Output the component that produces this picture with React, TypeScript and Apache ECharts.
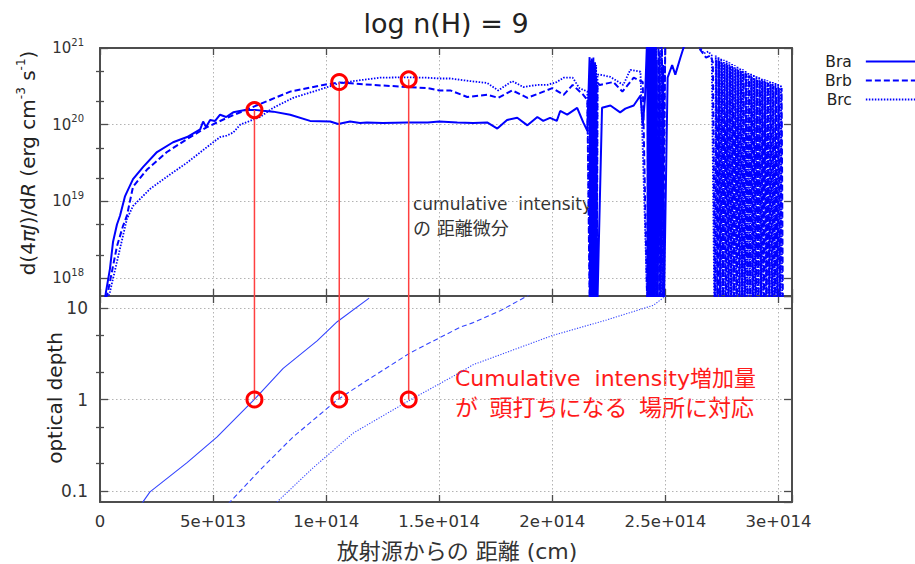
import { useEffect, useRef } from 'react';
import * as echarts from 'echarts';

// ---------------- data ----------------
const seriesNames = ['Bra', 'Brb', 'Brc'];
const xTickLabels = ['0', '5e+013', '1e+014', '1.5e+014', '2e+014', '2.5e+014', '3e+014'];
const intensityTickExponents = [18, 19, 20, 21];
const depthTickLabels = ['0.1', '1', '10'];
const intensityMinorTicks = [2e18, 5e18, 2e19, 5e19, 2e20, 5e20];
const depthMinorTicks = [0.2, 0.5, 2, 5];

// d(4piJ)/dR  [x (cm), value]
const braIntensity: [number, number][] = [
  [2.2e12, 5.4e17], [2.65e12, 6.6e17], [4.4e12, 1.32e18], [5.75e12, 2.95e18], [7.5e12, 5.0e18],
  [8.85e12, 6.5e18], [1.1e13, 1.15e19], [1.19e13, 1.32e19], [1.46e13, 1.95e19], [1.9e13, 2.8e19],
  [2.52e13, 4.4e19], [3.23e13, 5.9e19], [3.85e13, 6.9e19], [4.43e13, 8.7e19], [4.56e13, 1.1e20],
  [4.69e13, 9.3e19], [4.87e13, 1.15e20], [5.09e13, 1.12e20], [5.31e13, 1.35e20], [5.58e13, 1.26e20],
  [5.89e13, 1.45e20], [6.42e13, 1.55e20], [6.86e13, 1.56e20], [7.2e13, 1.52e20], [7.66e13, 1.48e20],
  [8.41e13, 1.35e20], [9.29e13, 1.12e20], [1.018e14, 1.1e20], [1.053e14, 1.02e20], [1.106e14, 1.1e20],
  [1.15e14, 1.05e20], [1.18e14, 1.07e20], [1.25e14, 1.05e20], [1.36e14, 1.07e20], [1.45e14, 1.07e20],
  [1.5e14, 1.1e20], [1.58e14, 1.07e20], [1.65e14, 1.05e20], [1.712e14, 1.07e20], [1.757e14, 8.9e19],
  [1.8e14, 1.15e20], [1.845e14, 1.23e20], [1.89e14, 9.8e19], [1.934e14, 1.26e20], [1.96e14, 1.12e20],
  [1.99e14, 1.23e20], [2.02e14, 1.12e20], [2.035e14, 1.51e20], [2.066e14, 1.35e20], [2.11e14, 1.66e20],
  [2.137e14, 1.07e20], [2.155e14, 8.3e19],
  [2.165e14, 7.6e20], [2.168e14, 3e17], [2.171e14, 6e20], [2.174e14, 3e17], [2.177e14, 7e20],
  [2.18e14, 3e17], [2.183e14, 5e20], [2.186e14, 3e17], [2.189e14, 6.5e20], [2.192e14, 3e17],
  [2.195e14, 4e20], [2.198e14, 3e17],
  [2.22e14, 1.66e20], [2.257e14, 1.78e20], [2.3e14, 1.45e20], [2.323e14, 1.62e20], [2.36e14, 1.78e20],
  [2.39e14, 2.4e20], [2.4e14, 9.8e19], [2.41e14, 2.2e20],
  [2.42e14, 1.5e21], [2.423e14, 3e17], [2.426e14, 1.2e21], [2.429e14, 3e17], [2.432e14, 9e20],
  [2.435e14, 3e17], [2.438e14, 1.3e21], [2.441e14, 3e17], [2.444e14, 8e20], [2.447e14, 3e17],
  [2.45e14, 1.1e21], [2.453e14, 3e17], [2.462e14, 7e20], [2.465e14, 3e17], [2.475e14, 9e20],
  [2.478e14, 3e17], [2.49e14, 6e20], [2.493e14, 3e17],
  [2.51e14, 4.1e20], [2.53e14, 6.0e20], [2.544e14, 4.5e20], [2.566e14, 7.4e20], [2.58e14, 1.0e21],
  [2.61e14, 1.6e21], [3.02e14, 1.8e21],
];

const brbIntensity: [number, number][] = [
  [2.65e12, 5.4e17], [3.5e12, 6.6e17], [7.5e12, 2.6e18], [1.02e13, 4.8e18], [1.19e13, 6.5e18],
  [1.46e13, 1.55e19], [2.08e13, 2.6e19], [2.96e13, 4.4e19], [3.85e13, 6.5e19], [4.73e13, 9.3e19],
  [5.62e13, 1.23e20], [6.86e13, 1.75e20], [8.41e13, 2.7e20], [9.87e13, 3.3e20], [1.058e14, 3.55e20],
  [1.208e14, 3.3e20], [1.358e14, 3.1e20], [1.447e14, 3.0e20], [1.5e14, 2.8e20], [1.549e14, 2.8e20],
  [1.624e14, 2.3e20], [1.712e14, 2.45e20], [1.761e14, 2.24e20], [1.823e14, 2.8e20], [1.89e14, 2.24e20],
  [1.947e14, 2.6e20], [2.0e14, 3.0e20], [2.05e14, 2.45e20], [2.09e14, 3.3e20], [2.137e14, 2.45e20],
  [2.155e14, 2.1e20],
  [2.166e14, 3e17], [2.169e14, 6.5e20], [2.172e14, 3e17], [2.175e14, 7.5e20], [2.178e14, 3e17],
  [2.181e14, 5.5e20], [2.184e14, 3e17], [2.187e14, 6e20], [2.19e14, 3e17], [2.193e14, 4.5e20],
  [2.196e14, 3e17], [2.2e14, 3.5e20],
  [2.21e14, 3.3e20], [2.27e14, 3.6e20], [2.31e14, 2.7e20], [2.36e14, 4.1e20], [2.4e14, 3.6e20],
  [2.421e14, 3e17], [2.424e14, 1.3e21], [2.427e14, 3e17], [2.43e14, 1.1e21], [2.433e14, 3e17],
  [2.436e14, 1.2e21], [2.439e14, 3e17], [2.442e14, 1.0e21], [2.445e14, 3e17], [2.448e14, 1.4e21],
  [2.451e14, 3e17], [2.458e14, 1.2e21], [2.461e14, 3e17], [2.47e14, 1.5e21], [2.473e14, 3e17],
  [2.485e14, 1.3e21], [2.488e14, 3e17], [2.5e14, 1.5e21],
  [2.6e14, 1.6e21], [2.66e14, 9e20], [2.68e14, 7.5e20], [2.7e14, 8e20], [2.71e14, 6.5e20],
  [2.72e14, 3e17], [2.726e14, 7e20], [2.732e14, 3e17], [2.738e14, 6.8e20], [2.744e14, 3e17],
  [2.75e14, 6.5e20], [2.756e14, 3e17], [2.762e14, 6.2e20], [2.768e14, 3e17], [2.774e14, 6e20],
  [2.78e14, 3e17], [2.786e14, 5.8e20], [2.792e14, 3e17], [2.798e14, 5.6e20], [2.804e14, 3e17],
  [2.81e14, 5.4e20], [2.816e14, 3e17], [2.822e14, 5.2e20], [2.828e14, 3e17], [2.834e14, 5e20],
  [2.84e14, 3e17], [2.846e14, 4.8e20], [2.852e14, 3e17], [2.858e14, 4.6e20], [2.864e14, 3e17],
  [2.87e14, 4.4e20], [2.876e14, 3e17], [2.882e14, 4.2e20], [2.888e14, 3e17], [2.894e14, 4e20],
  [2.9e14, 3e17], [2.906e14, 3.9e20], [2.912e14, 3e17], [2.918e14, 3.8e20], [2.924e14, 3e17],
  [2.93e14, 3.7e20], [2.936e14, 3e17], [2.942e14, 3.6e20], [2.948e14, 3e17], [2.954e14, 3.5e20],
  [2.96e14, 3e17], [2.966e14, 3.4e20], [2.972e14, 3e17], [2.978e14, 3.2e20], [2.984e14, 3e17],
  [2.99e14, 3.1e20], [2.996e14, 3e17], [3.002e14, 3e20], [3.008e14, 3e17], [3.014e14, 3e20],
  [3.02e14, 3e17],
];

const brcIntensity: [number, number][] = [
  [3.5e12, 5.4e17], [4.4e12, 6.6e17], [1.19e13, 5.9e18], [1.46e13, 8.7e18], [2.21e13, 1.45e19],
  [2.96e13, 2.1e19], [3.85e13, 3.2e19], [4.73e13, 5.1e19], [5.31e13, 6.9e19], [5.6e13, 7.2e19],
  [5.89e13, 7.9e19], [6.2e13, 1.0e20], [7.08e13, 1.26e20], [7.66e13, 1.66e20], [8.54e13, 2.24e20],
  [9.6e13, 2.8e20], [1.062e14, 3.5e20], [1.15e14, 3.8e20], [1.239e14, 4.1e20], [1.358e14, 4.15e20],
  [1.447e14, 4.1e20], [1.5e14, 4.0e20], [1.549e14, 4.0e20], [1.637e14, 3.7e20], [1.712e14, 3.5e20],
  [1.761e14, 2.8e20], [1.823e14, 3.7e20], [1.872e14, 3.1e20], [1.934e14, 3.3e20], [1.978e14, 3.3e20],
  [2.02e14, 3.6e20], [2.05e14, 4.1e20], [2.09e14, 4.1e20], [2.12e14, 3.0e20], [2.155e14, 2.7e20],
  [2.167e14, 3e17], [2.17e14, 7e20], [2.173e14, 3e17], [2.176e14, 6e20], [2.179e14, 3e17],
  [2.182e14, 7.5e20], [2.185e14, 3e17], [2.188e14, 5e20], [2.191e14, 3e17], [2.194e14, 6e20],
  [2.197e14, 3e17], [2.2e14, 4.5e20],
  [2.21e14, 4.5e20], [2.257e14, 4.2e20], [2.314e14, 3.3e20], [2.345e14, 5.2e20], [2.39e14, 4.9e20],
  [2.422e14, 3e17], [2.425e14, 1.2e21], [2.428e14, 3e17], [2.431e14, 1.4e21], [2.434e14, 3e17],
  [2.437e14, 1.1e21], [2.44e14, 3e17], [2.443e14, 1.3e21], [2.446e14, 3e17], [2.449e14, 1.2e21],
  [2.452e14, 3e17], [2.46e14, 1.4e21], [2.463e14, 3e17], [2.48e14, 1.5e21], [2.483e14, 3e17],
  [2.5e14, 1.5e21],
  [2.6e14, 1.7e21], [2.655e14, 1.0e21], [2.67e14, 8.5e20], [2.69e14, 9e20], [2.705e14, 8e20],
  [2.717e14, 3e17], [2.723e14, 8e20], [2.729e14, 3e17], [2.735e14, 7.6e20], [2.741e14, 3e17],
  [2.747e14, 7.3e20], [2.753e14, 3e17], [2.759e14, 7e20], [2.765e14, 3e17], [2.771e14, 6.8e20],
  [2.777e14, 3e17], [2.783e14, 6.5e20], [2.789e14, 3e17], [2.795e14, 6.2e20], [2.801e14, 3e17],
  [2.807e14, 6e20], [2.813e14, 3e17], [2.819e14, 5.7e20], [2.825e14, 3e17], [2.831e14, 5.5e20],
  [2.837e14, 3e17], [2.843e14, 5.3e20], [2.849e14, 3e17], [2.855e14, 5e20], [2.861e14, 3e17],
  [2.867e14, 4.8e20], [2.873e14, 3e17], [2.879e14, 4.6e20], [2.885e14, 3e17], [2.891e14, 4.5e20],
  [2.897e14, 3e17], [2.903e14, 4.3e20], [2.909e14, 3e17], [2.915e14, 4.2e20], [2.921e14, 3e17],
  [2.927e14, 4e20], [2.933e14, 3e17], [2.939e14, 3.9e20], [2.945e14, 3e17], [2.951e14, 3.8e20],
  [2.957e14, 3e17], [2.963e14, 3.7e20], [2.969e14, 3e17], [2.975e14, 3.6e20], [2.981e14, 3e17],
  [2.987e14, 3.5e20], [2.993e14, 3e17], [2.999e14, 3.4e20], [3.005e14, 3e17], [3.011e14, 3.3e20],
  [3.017e14, 3e17],
];

// optical depth [x (cm), tau]
const braDepth: [number, number][] = [
  [1.77e13, 0.069], [1.9e13, 0.076], [2.21e13, 0.098], [3.85e13, 0.204], [5.18e13, 0.39],
  [6.86e13, 1.02], [8.1e13, 2.19], [9.6e13, 4.37], [1.049e14, 7.08], [1.19e14, 12.8],
];
const brbDepth: [number, number][] = [
  [5.66e13, 0.072], [5.75e13, 0.076], [7.08e13, 0.17], [8.54e13, 0.39], [1.049e14, 0.99],
  [1.181e14, 1.62], [1.372e14, 3.24], [1.593e14, 6.17], [1.65e14, 6.92], [1.77e14, 9.33],
  [1.9e14, 14],
];
const brcDepth: [number, number][] = [
  [7.74e13, 0.072], [7.83e13, 0.076], [9.43e13, 0.18], [1.12e14, 0.43], [1.372e14, 0.99],
  [1.58e14, 1.9], [1.65e14, 2.4], [2.0e14, 5.0], [2.24e14, 7.4], [2.447e14, 10.7],
  [2.49e14, 12.9], [2.51e14, 14],
];

// highlighted positions (red circles)
const markerX = [6.83e13, 1.058e14, 1.365e14];
const markerIntensity = [1.55e20, 3.6e20, 3.9e20];
const markerDepth = [1, 1, 1];

// ---------------- layout / style ----------------
const X_MAX = 3.06e14;
const X_STEP = 5e13;
const TOP_MIN = Math.pow(10, 17.766);
const TOP_MAX = 1e21;
const BOT_MIN = Math.pow(10, -1.12);
const BOT_MAX = Math.pow(10, 1.131);
const FONT = "'DejaVu Sans', 'Noto Sans CJK JP', sans-serif";
const FRAME = '#4d4d4d';
const BLUE_TOP = '#0000ff';
const BLUE_BOT = '#3344ff';
const RED = '#ff0000';

const frameLine = { show: true, onZero: false, lineStyle: { color: FRAME, width: 2 } };
const tickStyle = { color: FRAME, width: 1.3 };
const gridLine = { show: true, lineStyle: { color: '#b3b3b3', width: 1, type: [1.5, 2.5] } };

function fmtX(v: number) {
  const idx = Math.round(v / X_STEP);
  if (Math.abs(v / X_STEP - idx) > 1e-6) return '';
  return xTickLabels[idx] ?? '';
}
function fmtIntensity(v: number) {
  const l = Math.log10(v);
  const e = Math.round(l);
  if (Math.abs(l - e) > 1e-6 || !intensityTickExponents.includes(e)) return '';
  return `{b|10}{s|${e}}`;
}
function fmtDepth(v: number) {
  const l = Math.log10(v);
  const e = Math.round(l);
  if (Math.abs(l - e) > 1e-6) return '';
  return depthTickLabels[e + 1] ?? '';
}

function xAxes(g: number, withLabels: boolean) {
  const base = { type: 'value', gridIndex: g, min: 0, max: X_MAX, interval: X_STEP };
  return [
    {
      ...base, position: 'bottom', axisLine: frameLine,
      axisTick: { show: true, inside: true, length: 7, lineStyle: tickStyle },
      axisLabel: { show: withLabels, formatter: fmtX, margin: 11, color: '#333', fontSize: 16.5, fontFamily: FONT },
      splitLine: gridLine,
    },
    {
      ...base, position: 'top', axisLine: frameLine,
      axisTick: { show: true, inside: true, length: 7, lineStyle: tickStyle },
      axisLabel: { show: false }, splitLine: { show: false },
    },
  ];
}

function yAxes(g: number, min: number, max: number, minor: number[], label: any) {
  const base = { type: 'log', logBase: 10, gridIndex: g, min, max };
  const minorTick = { show: true, inside: true, length: 4, customValues: minor, lineStyle: tickStyle };
  return [
    { ...base, position: 'left', axisLine: frameLine, axisTick: { show: true, inside: true, length: 8, lineStyle: tickStyle }, axisLabel: label, splitLine: gridLine },
    { ...base, position: 'left', axisLine: { show: false }, axisTick: minorTick, axisLabel: { show: false }, splitLine: { show: false } },
    { ...base, position: 'right', axisLine: frameLine, axisTick: { show: true, inside: true, length: 8, lineStyle: tickStyle }, axisLabel: { show: false }, splitLine: { show: false } },
    { ...base, position: 'right', axisLine: { show: false }, axisTick: minorTick, axisLabel: { show: false }, splitLine: { show: false } },
  ];
}

const topStyles = [
  { color: BLUE_TOP, width: 2, type: 'solid' },
  { color: BLUE_TOP, width: 2, type: [6, 3] },
  { color: BLUE_TOP, width: 1.8, type: [1.5, 1.5] },
];
const botStyles = [
  { color: BLUE_BOT, width: 1.1, type: 'solid' },
  { color: BLUE_BOT, width: 1.1, type: [5, 3] },
  { color: BLUE_BOT, width: 1.1, type: [1.2, 1.5] },
];

const intensitySets = [braIntensity, brbIntensity, brcIntensity];
const depthSets = [braDepth, brbDepth, brcDepth];

const option: any = {
  animation: false,
  backgroundColor: '#ffffff',
  grid: [
    { left: 100, top: 48, width: 692, height: 248, outerBoundsMode: 'none' },
    { left: 100, top: 296, width: 692, height: 206, outerBoundsMode: 'none' },
  ],
  xAxis: [...xAxes(0, false), ...xAxes(1, true)],
  yAxis: [
    ...yAxes(0, TOP_MIN, TOP_MAX, intensityMinorTicks, {
      formatter: fmtIntensity, margin: 16, showMinLabel: false, color: '#333', fontFamily: FONT,
      rich: {
        b: { fontSize: 15, lineHeight: 22, fontFamily: FONT, color: '#333' },
        s: { fontSize: 10, lineHeight: 8, verticalAlign: 'top', fontFamily: FONT, color: '#333' },
      },
    }),
    ...yAxes(1, BOT_MIN, BOT_MAX, depthMinorTicks, {
      formatter: fmtDepth, margin: 12, showMinLabel: false, showMaxLabel: false, color: '#333', fontSize: 17, fontFamily: FONT,
    }),
  ],
  legend: {
    data: seriesNames, orient: 'vertical', left: 820, top: 48, align: 'right',
    itemWidth: 58, itemHeight: 10, itemGap: 2,
    itemStyle: { opacity: 0 },
    textStyle: { fontSize: 15.5, lineHeight: 17, color: '#222', fontFamily: FONT, padding: [0, 9, 0, 0] },
  },
  series: [
    ...seriesNames.map((name, i) => ({
      type: 'line', name, xAxisIndex: 0, yAxisIndex: 0, data: intensitySets[i],
      symbol: 'none', showSymbol: false, lineStyle: topStyles[i], itemStyle: { color: BLUE_TOP }, z: 2,
    })),
    ...seriesNames.map((name, i) => ({
      type: 'line', name, xAxisIndex: 2, yAxisIndex: 4, data: depthSets[i],
      symbol: 'none', showSymbol: false, lineStyle: botStyles[i], itemStyle: { color: BLUE_BOT }, z: 2,
    })),
    ...markerX.map((x, i) => ({
      type: 'line', xAxisIndex: 0, yAxisIndex: 0, data: [[x, TOP_MIN], [x, markerIntensity[i]]],
      symbol: 'none', lineStyle: { color: '#ff4040', width: 1.5 }, silent: true, z: 3,
    })),
    ...markerX.map((x, i) => ({
      type: 'line', xAxisIndex: 2, yAxisIndex: 4, data: [[x, markerDepth[i]], [x, BOT_MAX]],
      symbol: 'none', lineStyle: { color: '#ff4040', width: 1.5 }, silent: true, z: 3,
    })),
    {
      type: 'scatter', xAxisIndex: 0, yAxisIndex: 0, data: markerX.map((x, i) => [x, markerIntensity[i]]),
      symbol: 'circle', symbolSize: 15, silent: true, z: 5,
      itemStyle: { color: 'rgba(255,255,255,0)', borderColor: RED, borderWidth: 3, opacity: 1 },
    },
    {
      type: 'scatter', xAxisIndex: 2, yAxisIndex: 4, data: markerX.map((x, i) => [x, markerDepth[i]]),
      symbol: 'circle', symbolSize: 15, silent: true, z: 5,
      itemStyle: { color: 'rgba(255,255,255,0)', borderColor: RED, borderWidth: 3, opacity: 1 },
    },
  ],
  graphic: [
    { type: 'text', x: 446, y: 23, silent: true, style: { text: 'log n(H) = 9', fontSize: 27, fontFamily: FONT, fill: '#222', align: 'center', verticalAlign: 'middle' } },
    {
      type: 'text', x: 28, y: 163, rotation: Math.PI / 2, silent: true,
      style: {
        text: '{n|d(4}{i|πJ}{n|)/d}{i|R}{n| (erg cm}{s|-3}{n| s}{s|-1}{n|)}',
        align: 'center', verticalAlign: 'middle', fill: '#222',
        rich: {
          n: { fontSize: 20, lineHeight: 26, fontFamily: FONT, fill: '#222' },
          i: { fontSize: 20, lineHeight: 26, fontFamily: FONT, fontStyle: 'italic', fill: '#222' },
          s: { fontSize: 12, lineHeight: 12, verticalAlign: 'top', fontFamily: FONT, fill: '#222' },
        },
      },
    },
    { type: 'text', x: 55, y: 398, rotation: Math.PI / 2, silent: true, style: { text: 'optical depth', fontSize: 20, fontFamily: FONT, fill: '#222', align: 'center', verticalAlign: 'middle' } },
    { type: 'text', x: 457, y: 551, silent: true, style: { text: '放射源からの 距離 (cm)', fontSize: 22, fontFamily: FONT, fill: '#333', align: 'center', verticalAlign: 'middle' } },
    { type: 'text', x: 413, y: 204, silent: true, style: { text: 'cumulative  intensity', fontSize: 17, fontFamily: FONT, fill: '#333', align: 'left', verticalAlign: 'middle' } },
    { type: 'text', x: 413, y: 228, silent: true, style: { text: 'の 距離微分', fontSize: 18, fontFamily: FONT, fill: '#333', align: 'left', verticalAlign: 'middle' } },
    { type: 'text', x: 455, y: 378, silent: true, style: { text: 'Cumulative  intensity増加量', fontSize: 22, fontFamily: FONT, fill: '#ff1a1a', align: 'left', verticalAlign: 'middle' } },
    { type: 'text', x: 455, y: 408, silent: true, style: { text: 'が\u2002頭打ちになる\u2002場所に対応', fontSize: 23, fontFamily: FONT, fill: '#ff1a1a', align: 'left', verticalAlign: 'middle' } },
  ],
};

export default function App() {
  const ref = useRef<HTMLDivElement>(null);
  useEffect(() => {
    const chart = echarts.init(ref.current as HTMLDivElement, null, { renderer: 'svg' });
    chart.setOption(option);
    return () => chart.dispose();
  }, []);
  return (
    <div
      ref={ref}
      style={{ position: 'fixed', left: 0, top: 0, width: 915, height: 564, background: '#fff' }}
    />
  );
}
